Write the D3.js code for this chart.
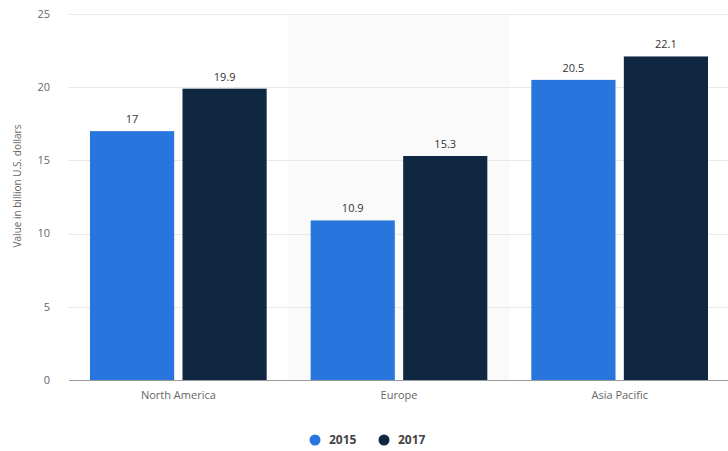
<!DOCTYPE html>
<html>
<head>
<meta charset="utf-8">
<script src="https://cdn.jsdelivr.net/npm/d3@7"></script>
<style>
  body { margin: 0; background: #fff; }
  svg { display: block; font-family: "Open Sans", "Liberation Sans", sans-serif; }
  .axis path, .axis line { shape-rendering: crispEdges; }
</style>
</head>
<body>
<script>
var regions = ['North America', 'Europe', 'Asia Pacific'];
var years = ['2015', '2017'];
var values2015 = [17, 10.9, 20.5];
var values2017 = [19.9, 15.3, 22.1];
var yTicks = [0, 5, 10, 15, 20, 25];
var colors = ['#2876dd', '#0f2740'];

var width = 728, height = 451;
var margin = {left: 68, right: -2, top: 14, bottom: 71};
var innerW = width - margin.left - margin.right;
var innerH = height - margin.top - margin.bottom;

var svg = d3.select("body").append("svg").attr("width", width).attr("height", height);
var g = svg.append("g").attr("transform", "translate(" + margin.left + "," + margin.top + ")");

var x = d3.scaleBand().domain(regions).range([0, innerW]);
var x1 = d3.scaleBand().domain(years).range([22, x.bandwidth() - 22]).paddingInner(0.09);
var y = d3.scaleLinear().domain([0, 25]).range([innerH, 0]);

// hover shading on the middle category
g.append("rect")
  .attr("x", x('Europe')).attr("y", y(25))
  .attr("width", x.bandwidth()).attr("height", innerH - y(25))
  .attr("fill", "#fafafa");

// gridlines
g.selectAll(".grid").data(yTicks.slice(1)).enter().append("line")
  .attr("x1", 0).attr("x2", innerW)
  .attr("y1", function(d){ return Math.round(y(d)) + 0.5; })
  .attr("y2", function(d){ return Math.round(y(d)) + 0.5; })
  .attr("stroke", "#e8e8e8").attr("stroke-width", 1);

// y tick labels
g.selectAll(".ytick").data(yTicks).enter().append("text")
  .attr("x", -18).attr("y", function(d){ return y(d); })
  .attr("dy", "0.35em").attr("text-anchor", "end")
  .attr("font-size", 11).attr("fill", "#666")
  .text(function(d){ return d; });

// bars
var series = [values2015, values2017];
years.forEach(function(yr, si) {
  g.selectAll(".bar" + yr).data(regions).enter().append("rect")
    .attr("x", function(d){ return x(d) + x1(yr); })
    .attr("y", function(d, i){ return y(series[si][i]); })
    .attr("width", x1.bandwidth())
    .attr("height", function(d, i){ return innerH - y(series[si][i]); })
    .attr("fill", colors[si]);
  g.selectAll(".lbl" + yr).data(regions).enter().append("text")
    .attr("x", function(d){ return x(d) + x1(yr) + x1.bandwidth() / 2; })
    .attr("y", function(d, i){ return y(series[si][i]) - 8; })
    .attr("text-anchor", "middle")
    .attr("font-size", 11).attr("fill", "#333")
    .text(function(d, i){ return series[si][i]; });
});

// x axis
var xAxis = d3.axisBottom(x).tickSize(0).tickPadding(11);
var xg = g.append("g").attr("class", "axis")
  .attr("transform", "translate(0," + innerH + ")")
  .call(xAxis);
xg.select(".domain").attr("stroke", "#999");
xg.selectAll("text").attr("font-size", 11).attr("fill", "#666")
  .attr("font-family", "\"Open Sans\", \"Liberation Sans\", sans-serif");

// y axis title
svg.append("text")
  .attr("transform", "translate(21," + 186 + ") rotate(-90)")
  .attr("text-anchor", "middle")
  .attr("font-size", 10).attr("fill", "#666")
  .text("Value in billion U.S. dollars");

// legend
var legend = svg.append("g").attr("transform", "translate(315,440)");
var legX = [0, 69];
years.forEach(function(yr, i) {
  var lg = legend.append("g").attr("transform", "translate(" + legX[i] + ",0)");
  lg.append("circle").attr("r", 5.5).attr("fill", colors[i]);
  lg.append("text").attr("x", 14).attr("dy", "0.35em")
    .attr("font-size", 12).attr("font-weight", "bold").attr("fill", "#444")
    .text(yr);
});
</script>
</body>
</html>
